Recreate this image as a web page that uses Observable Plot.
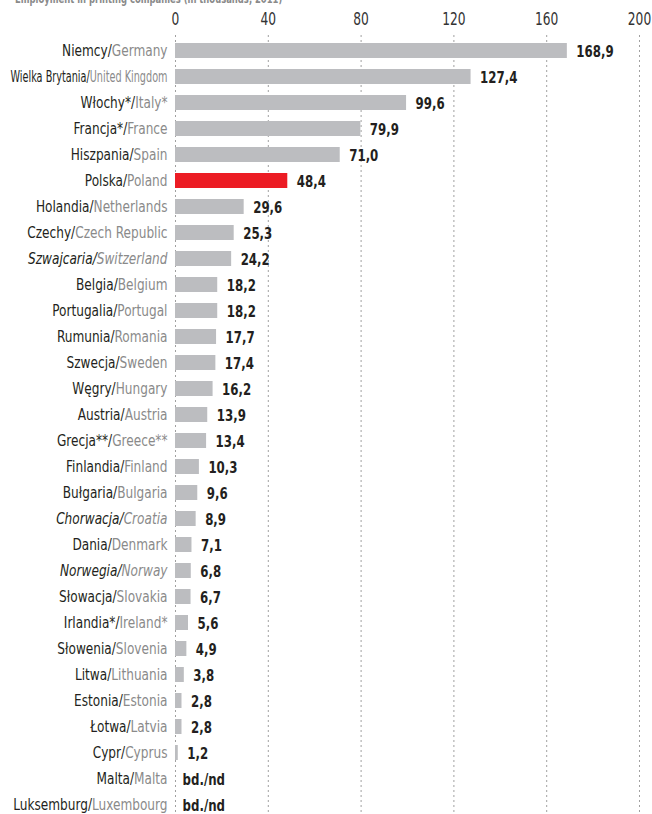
<!DOCTYPE html>
<html>
<head>
<meta charset="utf-8">
<script src="https://cdn.jsdelivr.net/npm/d3@7"></script>
<script src="https://cdn.jsdelivr.net/npm/@observablehq/plot@0.6"></script>
<style>
  html, body { margin: 0; padding: 0; background: #fff; overflow: hidden; }
  #wrap { position: relative; width: 652px; height: 814px; }
  #subtitle {
    position: absolute; left: 15px; top: -7px;
    font: bold 12px "DejaVu Sans Condensed", "Liberation Sans Narrow", Roboto, sans-serif;
    line-height: 12px; color: #8a8a8a; white-space: nowrap;
    transform: scaleX(0.78); transform-origin: 0 50%;
  }
  #chart { position: absolute; left: 0; top: 0; }
</style>
</head>
<body>
<div id="wrap">
  <div id="chart"></div>
  <div id="subtitle">Employment in printing companies (in thousands, 2011)</div>
</div>
<script>
const plNames = ["Niemcy","Wielka Brytania","Włochy*","Francja*","Hiszpania","Polska","Holandia","Czechy","Szwajcaria","Belgia","Portugalia","Rumunia","Szwecja","Węgry","Austria","Grecja**","Finlandia","Bułgaria","Chorwacja","Dania","Norwegia","Słowacja","Irlandia*","Słowenia","Litwa","Estonia","Łotwa","Cypr","Malta","Luksemburg"];
const enNames = ["Germany","United Kingdom","Italy*","France","Spain","Poland","Netherlands","Czech Republic","Switzerland","Belgium","Portugal","Romania","Sweden","Hungary","Austria","Greece**","Finland","Bulgaria","Croatia","Denmark","Norway","Slovakia","Ireland*","Slovenia","Lithuania","Estonia","Latvia","Cyprus","Malta","Luxembourg"];
const values = [168.9,127.4,99.6,79.9,71.0,48.4,29.6,25.3,24.2,18.2,18.2,17.7,17.4,16.2,13.9,13.4,10.3,9.6,8.9,7.1,6.8,6.7,5.6,4.9,3.8,2.8,2.8,1.2,null,null];
const italicCountries = ["Szwajcaria","Chorwacja","Norwegia"];
const highlightCountry = "Polska";
const xTicks = [0,40,80,120,160,200];
const noDataText = "bd./nd";

const rows = plNames.map((pl, i) => ({
  pl, en: enNames[i], label: pl + "/" + enNames[i], value: values[i],
  italic: italicCountries.includes(pl)
}));
const withVal = rows.filter(d => d.value != null);
const noVal = rows.filter(d => d.value == null);
const fmt = v => d3.format(".1f")(v).replace(".", ",");

const FONT = '"DejaVu Sans Condensed", "Liberation Sans Narrow", Roboto, sans-serif';
const DARK = "#231f20", GREY_TXT = "#8a8a8a", BAR = "#bcbdc0", RED = "#ec1c24";

const chart = Plot.plot({
  width: 652, height: 814,
  marginTop: 35, marginBottom: 0, marginLeft: 175, marginRight: 13,
  style: { fontFamily: FONT, fontSize: "17px", color: "#333", background: "transparent" },
  x: { domain: [0, 200], axis: "top", ticks: xTicks, tickSize: 0, tickPadding: 11, label: null },
  y: { domain: rows.map(d => d.label), range: [35, 820], paddingInner: 0.44, paddingOuter: 0.257, axis: null },
  marks: [
    Plot.ruleX(xTicks, { stroke: "#a0a0a0", strokeDasharray: "2,3", strokeWidth: 1 }),
    Plot.barX(withVal.filter(d => d.pl !== highlightCountry), { x: "value", y: "label", fill: BAR }),
    Plot.barX(withVal.filter(d => d.pl === highlightCountry), { x: "value", y: "label", fill: RED }),
    Plot.text(rows.filter(d => !d.italic), { x: d => 0, y: "label", text: "label", textAnchor: "end", dx: -8, fontSize: 15, fill: DARK }),
    Plot.text(rows.filter(d => d.italic), { x: d => 0, y: "label", text: "label", textAnchor: "end", dx: -8, fontSize: 15, fill: DARK, fontStyle: "italic" }),
    Plot.text(withVal, { x: "value", y: "label", text: d => fmt(d.value), textAnchor: "start", dx: 9, dy: 1, fontSize: 16, fontWeight: "bold", fill: DARK }),
    Plot.text(noVal, { x: d => 0, y: "label", text: d => noDataText, textAnchor: "start", dx: 7, dy: 1, fontSize: 16, fontWeight: "bold", fill: DARK })
  ]
});
document.getElementById("chart").appendChild(chart);

const labelSet = new Set(rows.map(d => d.label));
const valueSet = new Set(withVal.map(d => fmt(d.value)).concat([noDataText]));
const tickSet = new Set(xTicks.map(String));

// horizontal condensing around the text's anchor point (mimics a condensed typeface)
function squeeze(el, s) {
  const tr = el.getAttribute("transform") || "";
  el.setAttribute("transform", `${tr} scale(${s},1)`);
}

d3.select(chart).selectAll("text").each(function () {
  const t = d3.select(this);
  const s = t.text();
  if (labelSet.has(s)) {
    const k = s.indexOf("/");
    t.text("");
    t.append("tspan").attr("fill", DARK).text(s.slice(0, k + 1));
    t.append("tspan").attr("fill", GREY_TXT).text(s.slice(k + 1));
    if (s.startsWith("Wielka Brytania")) {
      t.attr("textLength", 157 / 0.9).attr("lengthAdjust", "spacingAndGlyphs");
    }
    squeeze(this, 0.9);
  } else if (valueSet.has(s)) {
    squeeze(this, 0.82);
  } else if (tickSet.has(s)) {
    squeeze(this, 0.8);
    t.attr("fill", "#333");
  }
});
</script>
</body>
</html>
